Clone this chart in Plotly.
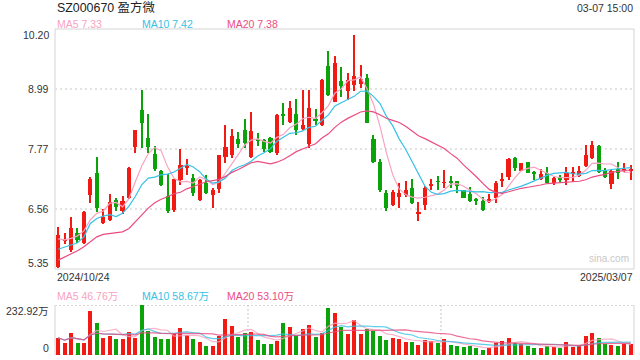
import plotly.graph_objects as go
import pandas as pd
import numpy as np

# ---------------- data ----------------
holidays = ['2025-01-01', '2025-01-28', '2025-01-29', '2025-01-30',
            '2025-01-31', '2025-02-03', '2025-02-04']
dates = [d.strftime('%Y/%m/%d') for d in pd.bdate_range('2024-10-24', '2025-03-07')
         if d.strftime('%Y-%m-%d') not in holidays]

open_ = [5.40, 5.93, 5.73, 6.07, 5.87, 6.85, 7.28, 6.27, 6.35, 6.74,
         6.53, 6.78, 7.81, 8.56, 7.99, 7.67, 7.33, 6.83, 6.54, 7.15,
         7.40, 7.18, 6.74, 7.09, 6.85, 6.97, 7.62, 7.65, 7.98, 8.16,
         7.62, 7.98, 7.96, 8.00, 7.69, 8.47, 8.33, 8.48, 8.18, 7.88,
         8.36, 8.26, 9.45, 8.73, 9.15, 8.95, 9.07, 9.09, 9.20, 7.98,
         7.51, 6.89, 6.64, 6.81, 6.85, 6.98, 6.48, 6.64, 7.04, 7.12,
         7.09, 7.13, 7.13, 6.95, 6.87, 6.74, 6.73, 6.70, 6.79, 7.14,
         7.20, 7.59, 7.34, 7.51, 7.29, 7.16, 7.30, 7.08, 7.20, 7.15,
         7.28, 7.22, 7.43, 7.59, 7.84, 7.35, 7.07, 7.37, 7.34, 7.34]
high = [6.20, 6.08, 6.40, 6.17, 6.53, 7.20, 7.61, 6.56, 6.86, 6.79,
        6.83, 7.42, 8.16, 8.97, 8.48, 7.84, 7.35, 7.26, 7.17, 7.77,
        7.57, 7.27, 7.16, 7.24, 6.98, 7.66, 8.26, 8.18, 8.11, 8.38,
        8.53, 8.09, 7.97, 8.01, 8.48, 8.71, 8.75, 8.79, 8.97, 8.97,
        8.58, 9.18, 9.76, 9.66, 9.43, 9.31, 10.08, 9.47, 9.29, 8.06,
        7.57, 6.95, 6.95, 7.09, 7.13, 7.16, 6.71, 7.03, 7.16, 7.22,
        7.35, 7.22, 7.13, 6.95, 7.01, 6.78, 6.80, 6.87, 7.13, 7.28,
        7.60, 7.61, 7.50, 7.52, 7.34, 7.37, 7.41, 7.20, 7.25, 7.42,
        7.41, 7.43, 7.86, 7.94, 7.86, 7.39, 7.35, 7.52, 7.49, 7.45]
low = [5.37, 5.85, 5.70, 5.88, 5.85, 6.69, 6.51, 6.25, 6.33, 6.52,
       6.46, 6.76, 7.69, 7.79, 7.70, 7.33, 7.02, 6.49, 6.51, 7.05,
       7.25, 6.83, 6.73, 6.87, 6.59, 6.88, 7.50, 7.59, 7.79, 7.79,
       7.59, 7.84, 7.72, 7.70, 7.65, 8.26, 8.30, 8.06, 8.16, 7.79,
       8.26, 8.23, 8.85, 8.72, 8.83, 8.77, 8.95, 9.00, 8.30, 7.49,
       6.91, 6.53, 6.62, 6.58, 6.81, 6.66, 6.31, 6.54, 6.95, 6.95,
       6.98, 6.99, 6.88, 6.78, 6.70, 6.64, 6.53, 6.68, 6.69, 7.01,
       7.14, 7.34, 7.33, 7.29, 7.15, 7.15, 7.08, 7.05, 7.11, 7.05,
       7.11, 7.20, 7.42, 7.57, 7.28, 7.18, 6.97, 7.16, 7.32, 7.15]
close = [6.04, 5.94, 6.17, 5.94, 6.51, 7.17, 6.58, 6.41, 6.71, 6.61,
         6.72, 7.40, 8.15, 8.31, 7.81, 7.37, 7.05, 6.53, 7.16, 7.45,
         7.41, 6.89, 7.15, 6.88, 6.95, 7.65, 7.82, 8.04, 7.88, 7.89,
         8.14, 7.95, 7.78, 7.72, 8.46, 8.45, 8.61, 8.15, 8.26, 8.61,
         8.35, 9.17, 8.87, 9.51, 9.05, 9.17, 9.25, 9.18, 8.31, 7.52,
         6.95, 6.58, 6.90, 6.89, 6.95, 6.69, 6.49, 6.98, 7.05, 7.11,
         7.10, 7.08, 7.03, 6.79, 6.72, 6.73, 6.54, 6.77, 7.09, 7.15,
         7.57, 7.40, 7.49, 7.30, 7.28, 7.27, 7.09, 7.18, 7.15, 7.30,
         7.29, 7.33, 7.65, 7.86, 7.32, 7.20, 7.33, 7.30, 7.35, 7.35]
# volume in 万 (10k shares)
volume = [80.6, 57, 104, 57, 54, 206, 150, 80.6, 90, 74.5,
          74.5, 108.7, 80.6, 232.92, 112, 85, 73, 73, 96, 124,
          92, 74.5, 59, 42, 42, 90, 168, 135, 84, 101,
          108.5, 70, 51, 51, 66.8, 149, 130, 93, 121, 140,
          85, 101, 220, 194, 132, 98, 163, 98, 121, 113,
          88.5, 70, 80.6, 74.5, 62, 62, 46.6, 70, 65, 57,
          74.5, 46.6, 42, 38.8, 42, 34, 23, 34, 57, 65,
          80.6, 57, 50, 42, 34, 34, 43.5, 38.8, 34, 62,
          38.8, 46.6, 90, 104, 80.6, 52.6, 46.6, 43.5, 50, 50]

# moving-average values before a full window exists (they use earlier history)
ma5_head = [5.96, 5.94, 5.97, 6.02]
ma10_head = [5.75, 5.79, 5.84, 5.88, 6.00, 6.27, 6.37, 6.42, 6.45]
ma20_head = [5.53, 5.59, 5.65, 5.72, 5.80, 5.90, 6.00, 6.05, 6.07, 6.08,
             6.10, 6.17, 6.31, 6.46, 6.58, 6.69, 6.76, 6.81, 6.87]

price_ticks = [10.20, 8.9875, 7.775, 6.5625, 5.35]
price_tick_text = ['10.20', '8.99', '7.77', '6.56', '5.35']
ma_labels = ['MA5 7.33', 'MA10 7.42', 'MA20 7.38']
vol_ma_labels = ['MA5 46.76万', 'MA10 58.67万', 'MA20 53.10万']
vol_max_label = '232.92万'
title_text = 'SZ000670 盈方微'
time_text = '03-07 15:00'

# ---------------- derived ----------------
n = len(close)
idx = np.arange(n)
o = np.array(open_); c = np.array(close); h = np.array(high); l = np.array(low)
up = c >= o
RED, GREEN = '#f21b14', '#0aa30a'
cols = [RED if u else GREEN for u in up]

cs = pd.Series(c)
ma5 = cs.rolling(5).mean().to_numpy(); ma5[:4] = ma5_head
ma10 = cs.rolling(10).mean().to_numpy(); ma10[:9] = ma10_head
ma20 = cs.rolling(20).mean().to_numpy(); ma20[:19] = ma20_head
vs = pd.Series(volume)
vma5 = vs.rolling(5, min_periods=1).mean()
vma10 = vs.rolling(10, min_periods=1).mean()
vma20 = vs.rolling(20, min_periods=1).mean()

C5, C10, C20 = '#f7a3c1', '#36c2e4', '#ea4c82'

body_base = np.minimum(o, c)
body_h = np.maximum(np.abs(c - o), 0.018)

fig = go.Figure()
fig.add_trace(go.Bar(x=idx, y=h - l, base=l, width=0.17, marker=dict(color=cols, line=dict(width=0)),
                     xaxis='x', yaxis='y', hoverinfo='skip'))
fig.add_trace(go.Bar(x=idx, y=body_h, base=body_base, width=0.64, marker=dict(color=cols, line=dict(width=0)),
                     xaxis='x', yaxis='y', customdata=dates, hovertemplate='%{customdata}<extra></extra>'))
for s, col in [(ma5, C5), (ma10, C10), (ma20, C20)]:
    fig.add_trace(go.Scatter(x=idx, y=s, mode='lines', line=dict(color=col, width=1.2),
                             xaxis='x', yaxis='y', hoverinfo='skip'))

fig.add_trace(go.Bar(x=idx, y=volume, width=0.62, marker=dict(color=cols, line=dict(width=0)),
                     xaxis='x2', yaxis='y2', hoverinfo='skip'))
for s, col in [(vma5, C5), (vma10, C10), (vma20, C20)]:
    fig.add_trace(go.Scatter(x=idx, y=s, mode='lines', line=dict(color=col, width=1.2),
                             opacity=0.8, xaxis='x2', yaxis='y2', hoverinfo='skip'))

T, B, L, R = 29, 5, 55, 6
W, H = 640, 360
PH = H - T - B
PW = W - L - R
def py(p):
    return (H - B - p) / PH
def px(p):
    return (p - L) / PW

main_bottom = py(269)
vol_top = py(305)

fig.update_layout(
    width=W, height=H, margin=dict(l=L, r=R, t=T, b=B),
    paper_bgcolor='white', plot_bgcolor='white', showlegend=False,
    barmode='overlay', bargap=0,
    font=dict(family='Liberation Sans, Arial, Noto Sans CJK SC', size=10.5, color='#333'),
    xaxis=dict(domain=[0, 1], range=[-0.5, n - 0.5], showticklabels=False, showgrid=False,
               zeroline=False, showline=False, anchor='y', fixedrange=True),
    yaxis=dict(domain=[main_bottom, 1], range=[5.35, 10.20], showticklabels=False, showgrid=False,
               zeroline=False, showline=False, anchor='x', fixedrange=True),
    xaxis2=dict(domain=[0, 1], range=[-0.5, n - 0.5], showticklabels=False, showgrid=False,
                zeroline=False, showline=False, anchor='y2', matches='x'),
    yaxis2=dict(domain=[0, vol_top], range=[0, max(volume)], showticklabels=False, showgrid=False,
                zeroline=False, showline=False, anchor='x2'),
)

shapes = []
# main panel border
shapes.append(dict(type='rect', xref='paper', yref='paper', x0=0, x1=1, y0=main_bottom, y1=1,
                   line=dict(color='#d4d4d4', width=1), layer='below'))
# dotted horizontal grid in main panel
for v in price_ticks[1:-1]:
    shapes.append(dict(type='line', xref='x', yref='y', x0=-0.5, x1=n - 0.5, y0=v, y1=v,
                       line=dict(color='#e2e2e2', width=2, dash='2px,3px'), layer='below'))
# volume panel borders
for xv in [0, 1]:
    shapes.append(dict(type='line', xref='paper', yref='paper', x0=xv, x1=xv, y0=0, y1=vol_top,
                       line=dict(color='#d4d4d4', width=1), layer='below'))
for yv in [0, max(volume)]:
    shapes.append(dict(type='line', xref='x2', yref='y2', x0=-0.5, x1=n - 0.5, y0=yv, y1=yv,
                       line=dict(color='#d8d8d8', width=2, dash='2px,2px'), layer='below'))
for xv in [n / 3 - 0.5, 2 * n / 3 - 0.5]:
    shapes.append(dict(type='line', xref='x2', yref='y2', x0=xv, x1=xv, y0=0, y1=max(volume),
                       line=dict(color='#d0d0d0', width=1.2, dash='2px,2px'), layer='below'))
fig.update_layout(shapes=shapes)

ann = []
def A(text, x, y, xanchor='left', color='#333', size=10.5, yanchor='middle'):
    ann.append(dict(text=text, x=x, y=y, xref='paper', yref='paper', xanchor=xanchor,
                    yanchor=yanchor, showarrow=False, font=dict(color=color, size=size)))

A(title_text, px(55), py(7.5), size=12.4, color='#222')
A(time_text, px(635), py(8), xanchor='right')
for t, xx, col in zip(ma_labels, [55, 140, 225], [C5, C10, C20]):
    A(t, px(xx), py(24), color=col)
label_y = [35, 89, 149, 209, 263]
for t, yy in zip(price_tick_text, label_y):
    A(t, px(51), py(yy), xanchor='right')
A(dates[0], px(55), py(277))
A(dates[-1], px(635), py(277), xanchor='right')
for t, xx, col in zip(vol_ma_labels, [55, 140, 225], [C5, C10, C20]):
    A(t, px(xx), py(296), color=col)
A(vol_max_label, px(51), py(311), xanchor='right')
A('0', px(51), py(348), xanchor='right')
A('sina.com', px(631), py(258), xanchor='right', color='#c8c8c8', size=10)
fig.update_layout(annotations=ann)

fig.write_html('out.html', config={'displayModeBar': False},
               post_script="document.body.style.margin='0';document.body.style.overflow='hidden';")
